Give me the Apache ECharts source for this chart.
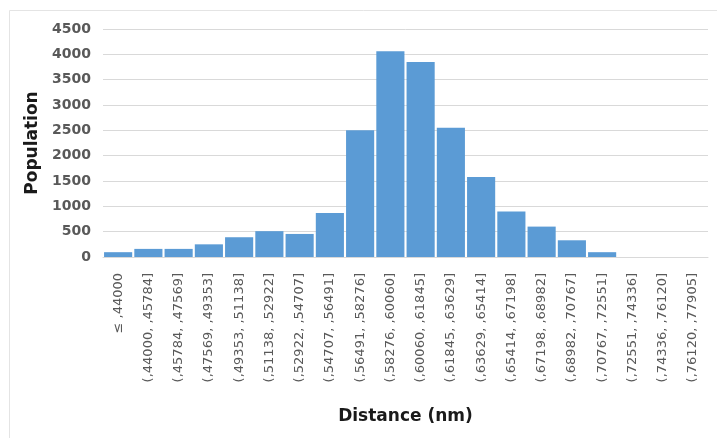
<!DOCTYPE html>
<html>
<head>
<meta charset="utf-8">
<script src="https://cdn.jsdelivr.net/npm/echarts@6/dist/echarts.min.js"></script>
<style>
  html, body { margin: 0; padding: 0; background: #fff; }
  #chart { width: 717px; height: 438px; }
</style>
</head>
<body>
<div id="chart"></div>
<script>
// Distance bins (nm) and the population counted in each bin
const bins = [
  '≤ ,44000', '(,44000, ,45784]', '(,45784, ,47569]', '(,47569, ,49353]',
  '(,49353, ,51138]', '(,51138, ,52922]', '(,52922, ,54707]', '(,54707, ,56491]',
  '(,56491, ,58276]', '(,58276, ,60060]', '(,60060, ,61845]', '(,61845, ,63629]',
  '(,63629, ,65414]', '(,65414, ,67198]', '(,67198, ,68982]', '(,68982, ,70767]',
  '(,70767, ,72551]', '(,72551, ,74336]', '(,74336, ,76120]', '(,76120, ,77905]'
];
const population = [
  95, 160, 160, 250, 390, 510, 455, 870, 2500, 4060,
  3850, 2550, 1580, 900, 600, 330, 95, 0, 0, 0
];
const yTicks = { min: 0, max: 4500, interval: 500 };

const chart = echarts.init(document.getElementById('chart'), null, { renderer: 'canvas' });
chart.setOption({
  backgroundColor: '#ffffff',
  animation: false,
  graphic: [{
    type: 'rect',
    left: 7, top: 8,
    shape: { width: 730, height: 450 },
    style: { fill: 'none', stroke: '#e4e4e4', lineWidth: 1 },
    silent: true
  }],
  grid: { left: 103, right: 9, top: 29, bottom: 181 },
  xAxis: {
    type: 'category',
    data: bins,
    name: 'Distance (nm)',
    nameLocation: 'middle',
    nameGap: 151,
    nameTextStyle: { fontFamily: 'DejaVu Sans', fontWeight: 'bold', fontSize: 17, color: '#1a1a1a' },
    axisLine: { show: true, lineStyle: { color: '#d9d9d9' } },
    axisTick: { show: false },
    axisLabel: {
      interval: 0, rotate: 90, margin: 16,
      fontFamily: 'DejaVu Sans', fontSize: 13, color: '#595959'
    }
  },
  yAxis: {
    type: 'value',
    min: yTicks.min, max: yTicks.max, interval: yTicks.interval,
    name: 'Population',
    nameLocation: 'middle',
    nameGap: 62,
    nameRotate: 90,
    nameTextStyle: { fontFamily: 'DejaVu Sans', fontWeight: 'bold', fontSize: 17, color: '#1a1a1a' },
    axisLine: { show: false },
    axisTick: { show: false },
    axisLabel: {
      margin: 12, formatter: v => String(v),
      fontFamily: 'DejaVu Sans', fontWeight: 'bold', fontSize: 14, color: '#595959'
    },
    splitLine: { lineStyle: { color: '#d9d9d9', width: 1 } }
  },
  series: [{
    type: 'bar',
    data: population,
    barCategoryGap: '7%',
    itemStyle: { color: '#5b9bd5' }
  }]
});
</script>
</body>
</html>
